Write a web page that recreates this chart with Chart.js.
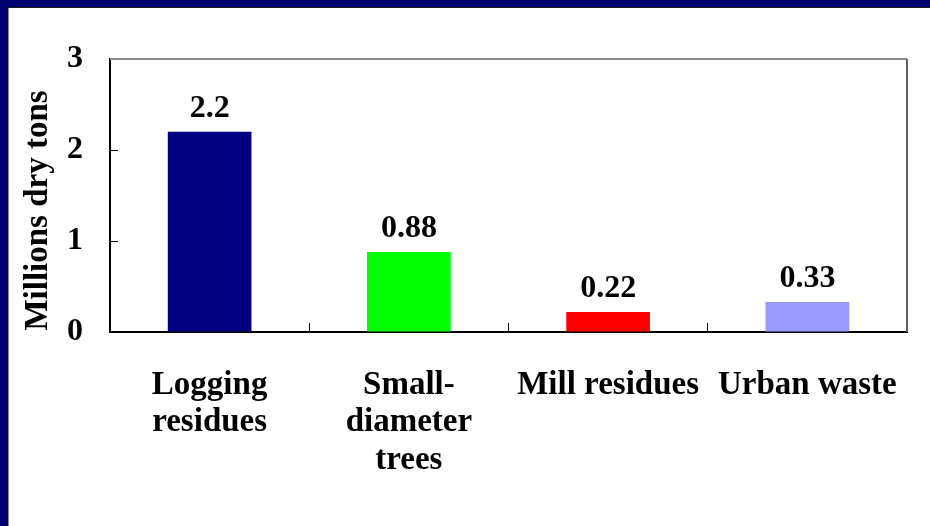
<!DOCTYPE html>
<html>
<head>
<meta charset="utf-8">
<title>Biomass supply</title>
<script src="https://cdn.jsdelivr.net/npm/chart.js@4.4.1/dist/chart.umd.min.js"></script>
<style>
  html, body { margin: 0; padding: 0; background: #ffffff; }
  #frame { position: relative; width: 930px; height: 526px; overflow: hidden; background: #ffffff; }
  .band-top { position: absolute; left: 0; top: 0; width: 930px; height: 7px; background: #000070; }
  .band-left { position: absolute; left: 0; top: 0; width: 8px; height: 526px; background: #000070; }
  .edge-top { position: absolute; left: 8px; top: 7px; width: 922px; height: 1px; background: #1a1a1a; }
  .edge-left { position: absolute; left: 8px; top: 8px; width: 1px; height: 518px; background: #8a8a8a; }
  #chart { position: absolute; left: 0; top: 0; }
</style>
</head>
<body>
<div id="frame">
  <div class="band-top"></div>
  <div class="band-left"></div>
  <div class="edge-top"></div>
  <div class="edge-left"></div>
  <canvas id="chart" width="930" height="526"></canvas>
</div>
<script>
// Biomass resources, millions of dry tons
const categories = [
  ['Logging', 'residues'],
  ['Small-', 'diameter', 'trees'],
  'Mill residues',
  'Urban waste'
];
const values = [2.2, 0.88, 0.22, 0.33];
const barColors = ['#000080', '#00ff00', '#ff0000', '#9999ff'];
const yTicks = [0, 1, 2, 3];
const yTitle = 'Millions dry tons';

const FONT_FAMILY = "'Liberation Serif', 'Times New Roman', Times, serif";
Chart.defaults.font.family = FONT_FAMILY;
Chart.defaults.font.weight = 'bold';
Chart.defaults.font.size = 32;
Chart.defaults.color = '#000000';

// Grey frame on the top and right of the plot area
const plotFrame = {
  id: 'plotFrame',
  beforeDatasetsDraw(chart) {
    const { ctx, chartArea: a } = chart;
    ctx.save();
    ctx.lineWidth = 2;
    ctx.strokeStyle = '#8c8c8c';
    ctx.beginPath();
    ctx.moveTo(a.left, a.top);
    ctx.lineTo(a.right, a.top);
    ctx.stroke();
    ctx.strokeStyle = '#606060';
    ctx.beginPath();
    ctx.moveTo(a.right, a.top);
    ctx.lineTo(a.right, a.bottom);
    ctx.stroke();
    ctx.restore();
  }
};

// Value printed above each bar
const valueLabels = {
  id: 'valueLabels',
  afterDatasetsDraw(chart) {
    const { ctx } = chart;
    const meta = chart.getDatasetMeta(0);
    ctx.save();
    ctx.font = 'bold 32px ' + FONT_FAMILY;
    ctx.fillStyle = '#000000';
    ctx.textAlign = 'center';
    ctx.textBaseline = 'alphabetic';
    meta.data.forEach((bar, i) => {
      ctx.fillText(String(values[i]), bar.x, bar.y - 15);
    });
    ctx.restore();
  }
};

// Rotated title beside the value axis
const axisTitle = {
  id: 'axisTitle',
  afterDraw(chart) {
    const { ctx, chartArea: a } = chart;
    ctx.save();
    ctx.font = 'bold 33px ' + FONT_FAMILY;
    ctx.fillStyle = '#000000';
    ctx.textAlign = 'center';
    ctx.textBaseline = 'middle';
    ctx.translate(a.left - 72, (a.top + a.bottom) / 2 + 15);
    ctx.rotate(-Math.PI / 2);
    ctx.fillText(yTitle, 0, 0);
    ctx.restore();
  }
};

new Chart(document.getElementById('chart'), {
  type: 'bar',
  data: {
    labels: categories,
    datasets: [{
      data: values,
      backgroundColor: barColors,
      borderWidth: 0,
      categoryPercentage: 1,
      barPercentage: 0.42
    }]
  },
  options: {
    responsive: false,
    animation: false,
    devicePixelRatio: 1,
    layout: { padding: { left: 0, top: 59, right: 23, bottom: 0 } },
    plugins: {
      legend: { display: false },
      tooltip: { enabled: false }
    },
    scales: {
      x: {
        grid: {
          offset: true,
          drawOnChartArea: false,
          drawTicks: true,
          tickLength: -9,
          color: '#000000',
          lineWidth: 1
        },
        border: { display: true, color: '#000000', width: 2 },
        ticks: {
          color: '#000000',
          font: { family: FONT_FAMILY, size: 33, weight: 'bold', lineHeight: 1.15 },
          padding: 43,
          maxRotation: 0,
          autoSkip: false
        },
        afterFit(scale) {
          scale.height = 194;
          scale.paddingLeft = 0;
          scale.paddingRight = 0;
        }
      },
      y: {
        min: 0,
        max: 3,
        afterBuildTicks(scale) { scale.ticks = yTicks.map(v => ({ value: v })); },
        grid: {
          drawOnChartArea: false,
          drawTicks: true,
          tickLength: -8,
          color: '#000000',
          lineWidth: 1
        },
        border: { display: true, color: '#000000', width: 2 },
        ticks: {
          color: '#000000',
          font: { family: FONT_FAMILY, size: 32, weight: 'bold' },
          padding: 35
        },
        afterFit(scale) {
          scale.width = 110;
          scale.paddingTop = 0;
          scale.paddingBottom = 0;
        }
      }
    }
  },
  plugins: [plotFrame, valueLabels, axisTitle]
});
</script>
</body>
</html>
